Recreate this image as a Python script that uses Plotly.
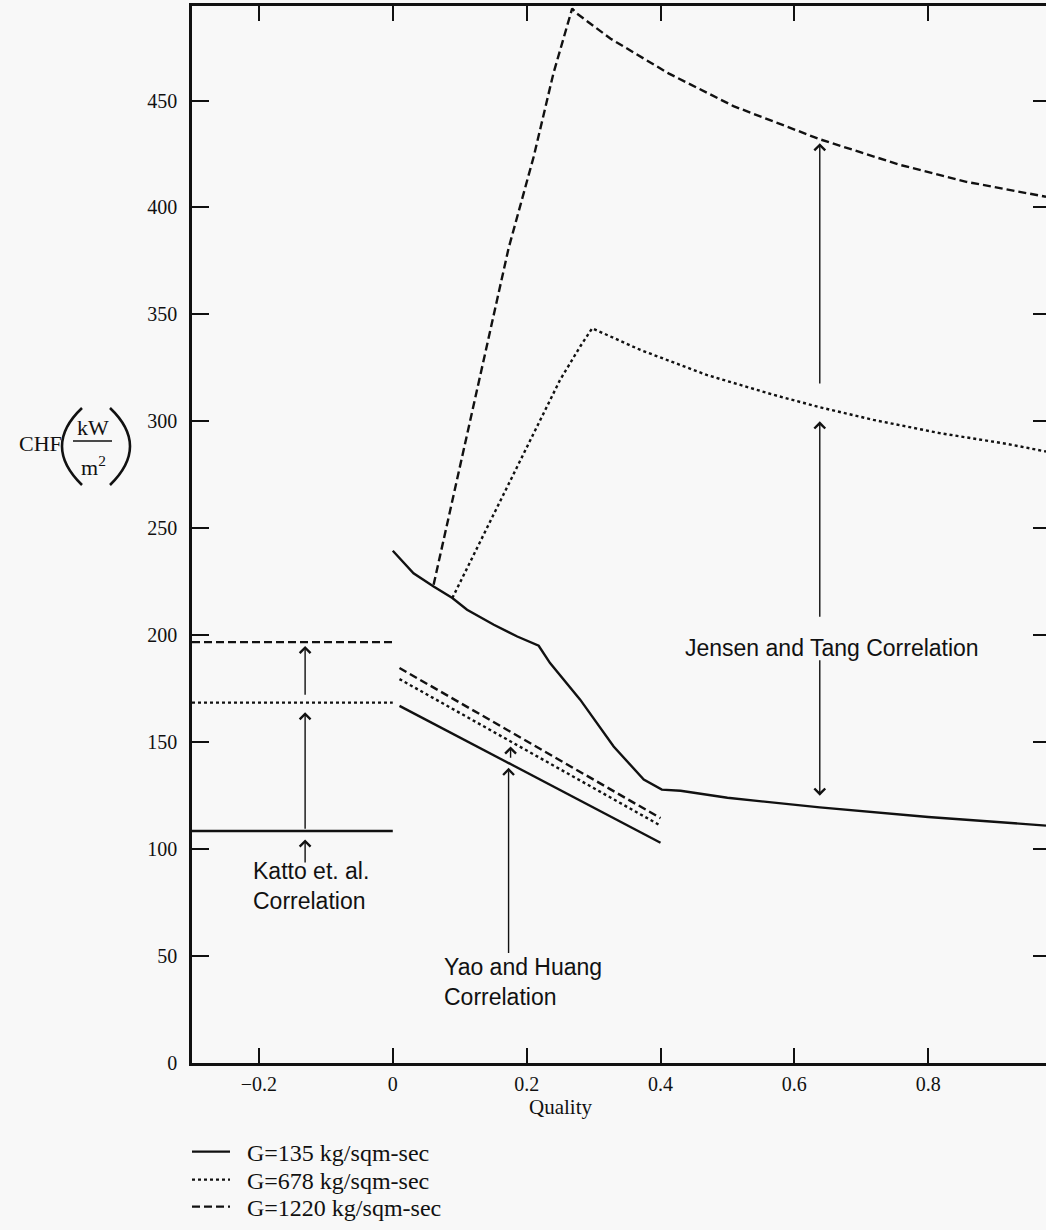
import plotly.graph_objects as go

# ---------------------------------------------------------------
# Critical heat flux (kW/m^2) versus quality for three mass fluxes
# ---------------------------------------------------------------
series_names = ["G=135 kg/sqm-sec", "G=678 kg/sqm-sec", "G=1220 kg/sqm-sec"]

# Katto et al. correlation (subcooled side, constant)
katto_x = [-0.3, 0.0]
katto_g135 = [108.5, 108.5]
katto_g678 = [168.5, 168.5]
katto_g1220 = [196.8, 196.8]

# Yao and Huang correlation
yao_x = [0.01, 0.40]
yao_g135 = [167.0, 103.0]
yao_g678 = [179.5, 111.0]
yao_g1220 = [184.7, 114.5]

# Jensen and Tang correlation
jt_g135_x = [0.0, 0.031, 0.061, 0.089, 0.111, 0.151, 0.186, 0.218, 0.235,
             0.280, 0.330, 0.375, 0.402, 0.43, 0.50, 0.638, 0.80, 0.976]
jt_g135_y = [239.5, 229.0, 222.8, 217.4, 211.9, 204.9, 199.4, 195.1, 187.0,
             169.9, 148.0, 132.5, 127.8, 127.3, 124.0, 119.5, 115.0, 111.0]

jt_g678_x = [0.089, 0.2205, 0.25, 0.28, 0.298, 0.37, 0.469, 0.569, 0.638,
             0.718, 0.817, 0.917, 0.976]
jt_g678_y = [217.4, 300.7, 319.4, 335.0, 343.5, 333.4, 321.7, 312.4, 306.6,
             300.7, 294.5, 289.5, 285.9]

jt_g1220_x = [0.061, 0.173, 0.2105, 0.24, 0.268, 0.275, 0.325, 0.37, 0.412,
              0.509, 0.638, 0.758, 0.857, 0.976]
jt_g1220_y = [223.6, 380.9, 423.7, 462.7, 493.0, 490.7, 479.0, 470.5, 462.7,
              447.4, 431.9, 419.9, 412.0, 405.0]

# axis ticks
x_ticks = [-0.2, 0.0, 0.2, 0.4, 0.6, 0.8]
y_ticks = [0, 50, 100, 150, 200, 250, 300, 350, 400, 450]

INK = "#111111"
BG = "#f8f8f8"
SERIF = "Liberation Serif, Times New Roman, serif"
SANS = "Liberation Sans, Arial, sans-serif"

dash_styles = ["solid", "3px,3px", "8px,4px"]
legend_ids = ["legend", "legend2", "legend3"]

fig = go.Figure()

groups = [
    (katto_x, [katto_g135, katto_g678, katto_g1220]),
    ([yao_x] * 3, [yao_g135, yao_g678, yao_g1220]),
    ([jt_g135_x, jt_g678_x, jt_g1220_x], [jt_g135_y, jt_g678_y, jt_g1220_y]),
]

for gi, (xs, ys) in enumerate(groups):
    for si in range(3):
        xv = xs if gi == 0 else xs[si]
        fig.add_trace(go.Scatter(
            x=xv, y=ys[si], mode="lines",
            line=dict(color=INK, width=2.4, dash=dash_styles[si]),
            name="\u00a0\u00a0" + series_names[si],
            showlegend=(gi == 0),
            legend=legend_ids[si],
            hoverinfo="skip",
        ))

# empty trace that binds the right-hand tick axis
fig.add_trace(go.Scatter(x=[], y=[], yaxis="y2", showlegend=False,
                         hoverinfo="skip"))

# vertical arrows linking the curves: (x, tail y, head y)
arrows = [
    (-0.131, 108.8, 164.0),
    (-0.131, 171.5, 195.0),
    (-0.131, 93.0, 104.5),
    (0.173, 50.7, 138.0),
    (0.176, 142.0, 148.0),
    (0.638, 317.0, 430.0),
    (0.638, 208.0, 300.0),
    (0.638, 189.0, 125.0),
]
annotations = []
for ax_, yt, yh in arrows:
    annotations.append(dict(
        x=ax_, y=yh, ax=ax_, ay=yt, xref="x", yref="y", axref="x", ayref="y",
        text="", showarrow=True, arrowhead=4, arrowsize=1.5, arrowwidth=1.4,
        arrowcolor=INK, standoff=0, startstandoff=0,
    ))

labels = [
    (-0.212, 82.9, "Katto et. al.<br>Correlation", "left"),
    (0.073, 38.1, "Yao and Huang<br>Correlation", "left"),
    (0.656, 194.2, "Jensen and Tang Correlation", "center"),
]
for lx, ly, txt, anchor in labels:
    annotations.append(dict(
        x=lx, y=ly, xref="x", yref="y", text=txt, showarrow=False,
        xanchor=anchor, yanchor="middle", align="left",
        font=dict(family=SANS, size=23, color=INK),
    ))

# helpers converting window pixels to paper fractions (plot area 192..1046, 6..1063)
def px(v):
    return (v - 192) / 854.0


def py(v):
    return (1063 - v) / 1057.0


# axis titles
annotations.append(dict(
    x=0.25, y=py(1107), xref="x", yref="paper", text="Quality", showarrow=False,
    xanchor="center", yanchor="middle", font=dict(family=SERIF, size=21, color=INK),
))
annotations.append(dict(
    x=px(64), y=py(443), xref="paper", yref="paper", text="CHF", showarrow=False,
    xanchor="right", yanchor="middle", font=dict(family=SERIF, size=22, color=INK),
))
annotations.append(dict(
    x=px(93), y=py(427), xref="paper", yref="paper", text="kW", showarrow=False,
    xanchor="center", yanchor="middle", font=dict(family=SERIF, size=22, color=INK),
))
annotations.append(dict(
    x=px(93), y=py(466), xref="paper", yref="paper", text="m<sup>2</sup>",
    showarrow=False, xanchor="center", yanchor="middle",
    font=dict(family=SERIF, size=22, color=INK),
))

shapes = [
    # fraction bar
    dict(type="line", xref="paper", yref="paper", x0=px(73), x1=px(112),
         y0=py(441), y1=py(441), line=dict(color=INK, width=1.5)),
    # large parentheses
    dict(type="path", xref="paper", yref="paper",
         path=f"M {px(82)},{py(408)} Q {px(42)},{py(446)} {px(82)},{py(485)}",
         line=dict(color=INK, width=2.6)),
    dict(type="path", xref="paper", yref="paper",
         path=f"M {px(110)},{py(408)} Q {px(150)},{py(446)} {px(110)},{py(485)}",
         line=dict(color=INK, width=2.6)),
]

legend_common = dict(
    xanchor="left", yanchor="middle", bgcolor="rgba(0,0,0,0)", borderwidth=0,
    font=dict(family=SERIF, size=24, color=INK), itemwidth=38,
)
legend_y = [py(1152), py(1180), py(1207)]

fig.update_layout(
    width=1046, height=1230,
    margin=dict(l=192, r=0, t=6, b=167, pad=0),
    paper_bgcolor=BG, plot_bgcolor=BG,
    showlegend=True,
    legend=dict(x=px(187), y=legend_y[0], **legend_common),
    legend2=dict(x=px(187), y=legend_y[1], **legend_common),
    legend3=dict(x=px(187), y=legend_y[2], **legend_common),
    xaxis=dict(
        range=[-0.3, 0.976], tickvals=x_ticks, showgrid=False, zeroline=False,
        showline=True, linecolor=INK, linewidth=2.5, mirror="ticks",
        ticks="inside", ticklen=15, tickwidth=2, tickcolor=INK,
        ticklabelstandoff=1,
        tickfont=dict(family=SERIF, size=20, color=INK),
    ),
    yaxis=dict(
        range=[0, 494.2], tickvals=y_ticks, showgrid=False, zeroline=False,
        showline=True, linecolor=INK, linewidth=2.5, mirror=False,
        ticks="inside", ticklen=17, tickwidth=2, tickcolor=INK,
        ticklabelstandoff=8,
        tickfont=dict(family=SERIF, size=20, color=INK),
    ),
    yaxis2=dict(
        range=[0, 494.2], tickvals=y_ticks, overlaying="y", side="right",
        anchor="x", showgrid=False, zeroline=False, showline=False,
        showticklabels=False,
        ticks="inside", ticklen=13, tickwidth=2, tickcolor=INK,
    ),
    annotations=annotations,
    shapes=shapes,
)

fig.write_html("out.html")
